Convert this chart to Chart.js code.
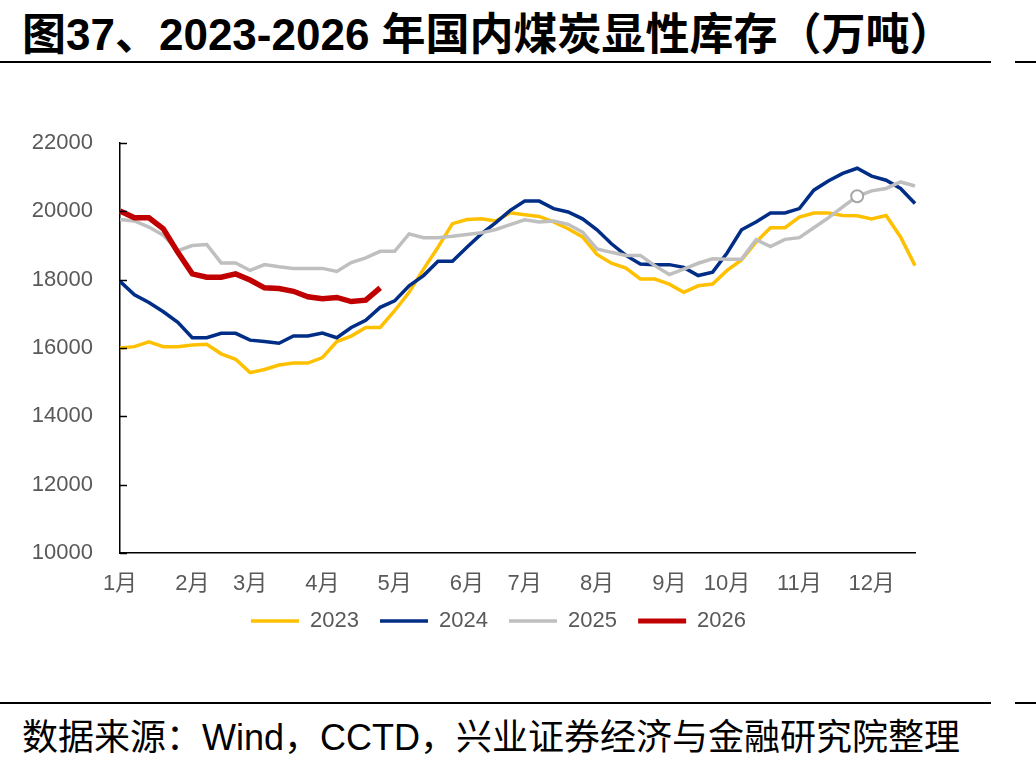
<!DOCTYPE html>
<html><head><meta charset="utf-8">
<script src="https://cdn.jsdelivr.net/npm/chart.js@4.4.1/dist/chart.umd.min.js"></script>
<style>
html,body{margin:0;padding:0;background:#fff;width:1036px;height:769px;overflow:hidden;position:relative;}
#title{position:absolute;left:22px;top:-1px;font:bold 44px "Liberation Sans","Noto Sans CJK SC",sans-serif;color:#000;white-space:nowrap;}
.hr{position:absolute;height:2px;background:#000;}
#src{position:absolute;left:22px;top:708px;font:36px "Liberation Sans","Noto Sans CJK SC",sans-serif;color:#000;white-space:nowrap;}
#wrap{position:absolute;left:0;top:70px;width:997px;height:600px;}
</style></head>
<body>
<div id="title">图37、2023-2026 年国内煤炭显性库存（万吨）</div>
<div class="hr" style="left:0;top:61px;width:991px;"></div>
<div class="hr" style="left:1015px;top:61px;width:21px;"></div>
<div id="wrap"><canvas id="c" width="997" height="600"></canvas></div>
<div class="hr" style="left:0;top:702px;width:991px;"></div>
<div class="hr" style="left:1015px;top:702px;width:21px;"></div>
<div id="src">数据来源：Wind，CCTD，兴业证券经济与金融研究院整理</div>
<script>
const monthAt = {0:'1月',5:'2月',9:'3月',14:'4月',19:'5月',24:'6月',28:'7月',33:'8月',38:'9月',42:'10月',47:'11月',52:'12月'};
const weeks = Array.from({length:56}, (_, i) => monthAt[i] || '');
const yTicks = [10000, 12000, 14000, 16000, 18000, 20000, 22000];

const s2023 = [16000,16040,16180,16040,16040,16090,16110,15830,15670,15280,15370,15500,15560,15560,15720,16190,16350,16600,16600,17090,17630,18310,18950,19640,19760,19780,19720,19960,19900,19850,19690,19490,19250,18740,18480,18340,18020,18020,17870,17630,17820,17870,18270,18580,19100,19520,19520,19830,19950,19950,19880,19870,19780,19880,19250,18410];
const s2024 = [17950,17560,17330,17060,16750,16300,16300,16430,16430,16230,16190,16140,16350,16350,16440,16300,16600,16810,17190,17380,17820,18120,18540,18540,18950,19340,19670,20030,20300,20300,20080,19980,19780,19460,19050,18710,18460,18440,18440,18360,18120,18220,18780,19460,19690,19950,19950,20080,20620,20890,21110,21260,21030,20910,20670,20230];
const s2025 = [19760,19720,19540,19300,18850,19000,19030,18490,18490,18270,18440,18380,18330,18330,18330,18240,18500,18640,18830,18830,19340,19230,19230,19270,19320,19370,19470,19610,19750,19690,19720,19620,19390,18900,18800,18710,18710,18410,18150,18310,18480,18610,18600,18600,19170,18970,19180,19230,19520,19810,20130,20440,20600,20670,20860,20740];
const s2026 = [20010,19810,19810,19490,18800,18170,18070,18070,18170,17990,17760,17740,17660,17500,17440,17480,17360,17400,17760];
const markIndex2025 = 51;

const FONT = '"Liberation Sans","Noto Sans CJK SC",sans-serif';
const TICKC = '#595959';

const innerTicks = {
  id:'innerTicks',
  afterDraw(chart){
    const y = chart.scales.y, ctx = chart.ctx, left = chart.chartArea.left;
    ctx.save();
    ctx.strokeStyle = '#000'; ctx.lineWidth = 1.5;
    yTicks.forEach(v => {
      const py = Math.round(y.getPixelForValue(v)) + 0.5;
      ctx.beginPath(); ctx.moveTo(left, py); ctx.lineTo(left + 7, py); ctx.stroke();
    });
    ctx.restore();
  }
};

new Chart(document.getElementById('c'), {
  type:'line',
  data:{
    labels: weeks,
    datasets:[
      {label:'2023', data:s2023, borderColor:'#FFC000', backgroundColor:'#FFC000', borderWidth:3.5, pointRadius:0, tension:0, order:4},
      {label:'2024', data:s2024, borderColor:'#002D86', backgroundColor:'#002D86', borderWidth:3.5, pointRadius:0, tension:0, order:3},
      {label:'2025', data:s2025, borderColor:'#BFBFBF', backgroundColor:'#BFBFBF', borderWidth:3.5, tension:0, order:2,
        pointRadius: s2025.map((_, i) => i === markIndex2025 ? 6 : 0),
        pointBackgroundColor:'#FFFFFF', pointBorderColor:'#A6A6A6', pointBorderWidth:2},
      {label:'2026', data:s2026, borderColor:'#C00000', backgroundColor:'#C00000', borderWidth:5.5, pointRadius:0, tension:0, order:1}
    ]
  },
  options:{
    responsive:false, animation:false, devicePixelRatio:1,
    layout:{padding:{left:0, right:0, top:73, bottom:28}},
    plugins:{
      legend:{position:'bottom', labels:{usePointStyle:true, pointStyle:'line', pointStyleWidth:48, color:TICKC, font:{family:FONT, size:22}, padding:15,
        generateLabels(chart){
          const n = chart.data.datasets.length;
          return chart.data.datasets.map((d, i) => ({text: i < n - 1 ? d.label + ' ' : d.label, fillStyle:d.borderColor, strokeStyle:d.borderColor, lineWidth:Math.min(d.borderWidth, 5), pointStyle:'line', hidden:false, datasetIndex:i, fontColor:TICKC}));
        }}},
      tooltip:{enabled:false}
    },
    scales:{
      x:{grid:{display:false, drawTicks:false}, border:{display:true, color:'#000', width:1.5},
         afterFit(s){ s.height = 42; },
         ticks:{autoSkip:false, maxRotation:0, padding:18, color:TICKC, font:{family:FONT, size:22}}},
      y:{min:10000, max:22000, grid:{display:false, drawTicks:false}, border:{display:true, color:'#000', width:1.5},
         afterBuildTicks(s){ s.ticks = yTicks.map(v => ({value:v})); },
         afterFit(s){ s.width = 120; },
         ticks:{padding:27, color:TICKC, font:{family:FONT, size:22}, callback:(v) => String(v)}},
      yPad:{position:'right', display:true, grid:{display:false, drawTicks:false}, border:{display:false},
         ticks:{display:false}, afterFit(s){ s.width = 82; }}
    }
  },
  plugins:[innerTicks]
});
</script>
</body></html>
